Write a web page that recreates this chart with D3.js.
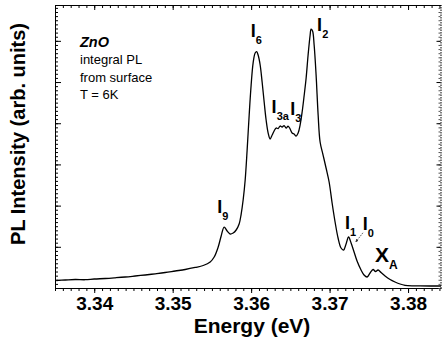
<!DOCTYPE html>
<html>
<head>
<meta charset="utf-8">
<script src="https://cdn.jsdelivr.net/npm/d3@7"></script>
<style>
  body { margin: 0; background: #fff; }
  svg { display: block; font-family: Arial, "Liberation Sans", Helvetica, sans-serif; }
  .axis path, .axis line { stroke: #000; stroke-width: 1; }
</style>
</head>
<body>
<div id="chart"></div>
<script>
// PL spectrum ZnO
var energy = [3.33516, 3.33631, 3.33758, 3.33885, 3.34, 3.3414, 3.34268, 3.34395, 3.34522, 3.3465,
  3.34777, 3.34904, 3.35032, 3.35159, 3.35287, 3.35389, 3.35478, 3.35529, 3.3558, 3.35618,
  3.35656, 3.35694, 3.35732, 3.35771, 3.35809, 3.35847, 3.35873, 3.35898, 3.35924, 3.35949,
  3.35975, 3.36, 3.36025, 3.36051, 3.3607, 3.36089, 3.36115, 3.3614, 3.36166, 3.36191,
  3.36217, 3.36242, 3.36268, 3.36293, 3.36318, 3.36344, 3.36369, 3.36395, 3.3642, 3.36446,
  3.36471, 3.36497, 3.36522, 3.36548, 3.36573, 3.36599, 3.36624, 3.3665, 3.36675, 3.36701,
  3.36726, 3.36752, 3.36764, 3.36783, 3.36803, 3.36828, 3.36854, 3.36879, 3.36917, 3.36955,
  3.36994, 3.37032, 3.3707, 3.37108, 3.37146, 3.37178, 3.3721, 3.37242, 3.37274, 3.37312,
  3.3735, 3.37401, 3.37439, 3.37478, 3.37516, 3.37554, 3.37586, 3.37618, 3.37656, 3.37707,
  3.37771, 3.37834, 3.37898, 3.37962, 3.3805, 3.38153, 3.3828, 3.3842];
var intensity = [0.182, 0.194, 0.206, 0.201, 0.218, 0.231, 0.248, 0.267, 0.291, 0.316,
  0.345, 0.376, 0.413, 0.449, 0.498, 0.546, 0.631, 0.752, 0.995, 1.262,
  1.48, 1.383, 1.311, 1.335, 1.408, 1.553, 1.796, 2.136, 2.621, 3.35,
  4.2, 4.927, 5.461, 5.704, 5.74, 5.655, 5.413, 5.0, 4.515, 4.078,
  3.762, 3.617, 3.714, 3.811, 3.883, 3.871, 3.932, 3.908, 3.944, 3.883,
  3.932, 3.859, 3.762, 3.738, 3.689, 3.762, 3.956, 4.272, 4.66, 5.097,
  5.655, 6.141, 6.286, 6.238, 5.898, 5.17, 4.199, 3.544, 3.228, 2.913,
  2.573, 2.063, 1.602, 1.214, 0.971, 0.922, 1.068, 1.238, 1.092, 0.874,
  0.655, 0.437, 0.316, 0.267, 0.364, 0.449, 0.4, 0.437, 0.376, 0.291,
  0.206, 0.146, 0.097, 0.066, 0.053, 0.053, 0.049, 0.049];

var xMajor = [3.34, 3.35, 3.36, 3.37, 3.38];
var xTickLabels = ["3.34", "3.35", "3.36", "3.37", "3.38"];

// peak labels: main letter, subscript, anchor (energy, intensity)
var peakMain = ["I", "I", "I", "I", "I", "I", "I", "X"];
var peakSub = ["9", "6", "3a", "3", "2", "1", "0", "A"];
var peakE = [3.35567, 3.35994, 3.36261, 3.36497, 3.36841, 3.37197, 3.37423, 3.3758];
var peakI = [1.82, 6.10, 4.25, 4.20, 6.24, 1.43, 1.41, 0.64];

var infoLines = ["integral PL", "from surface", "T = 6K"];

var W = 443, H = 349,
    margin = {left: 55, right: 2, top: 5, bottom: 61};

var svg = d3.select("#chart").append("svg")
    .attr("width", W)
    .attr("height", H);

var x = d3.scaleLinear().domain([3.335, 3.3842]).range([margin.left, W - margin.right]);
var y = d3.scaleLinear().domain([0, 6.87]).range([H - margin.bottom, margin.top]);

var x0 = x.range()[0], x1 = x.range()[1], y0 = y.range()[0], y1 = y.range()[1];

var xMinor = d3.range(3.335, 3.3845, 0.001).map(function (d) { return +d.toFixed(3) });
var yMajor = d3.range(1, 7);
var yMinor = d3.range(0, 6.9, 0.1).map(function (d) { return +d.toFixed(1) });

// bottom axis, ticks outward
svg.append("g").attr("class", "axis")
    .attr("transform", "translate(0," + y0 + ")")
    .call(d3.axisBottom(x).tickValues(xMinor).tickSize(3).tickSizeOuter(0).tickFormat(""));
var bx = svg.append("g").attr("class", "axis")
    .attr("transform", "translate(0," + y0 + ")")
    .call(d3.axisBottom(x).tickValues(xMajor).tickSize(5).tickSizeOuter(0)
        .tickPadding(4).tickFormat(function (d, i) { return xTickLabels[i] }));
bx.select(".domain").remove();
bx.selectAll("text")
    .attr("fill", "#000")
    .style("font-size", "19px")
    .style("font-weight", "bold");

// top axis, ticks inward
svg.append("g").attr("class", "axis")
    .attr("transform", "translate(0," + y1 + ")")
    .call(d3.axisBottom(x).tickValues(xMinor).tickSize(3).tickSizeOuter(0).tickFormat(""));
svg.append("g").attr("class", "axis")
    .attr("transform", "translate(0," + y1 + ")")
    .call(d3.axisBottom(x).tickValues(xMajor).tickSize(5).tickSizeOuter(0).tickFormat(""))
    .select(".domain").remove();

// left axis, ticks inward
svg.append("g").attr("class", "axis")
    .attr("transform", "translate(" + x0 + ",0)")
    .call(d3.axisRight(y).tickValues(yMinor).tickSize(3).tickSizeOuter(0).tickFormat(""));
svg.append("g").attr("class", "axis")
    .attr("transform", "translate(" + x0 + ",0)")
    .call(d3.axisRight(y).tickValues(yMajor).tickSize(6).tickSizeOuter(0).tickFormat(""))
    .select(".domain").remove();

// right axis (dotted in the scan)
var ra = svg.append("g").attr("class", "axis")
    .attr("transform", "translate(" + (x1 - 0.5) + ",0)")
    .call(d3.axisLeft(y).tickValues(yMinor).tickSize(2).tickSizeOuter(0).tickFormat(""));
ra.select(".domain").style("stroke-dasharray", "1.5,1");
ra.selectAll(".tick line").style("stroke", "#555");
svg.append("g").attr("class", "axis")
    .attr("transform", "translate(" + (x1 - 0.5) + ",0)")
    .call(d3.axisLeft(y).tickValues(yMajor).tickSize(4).tickSizeOuter(0).tickFormat(""))
    .select(".domain").remove();

// spectrum
var line = d3.line()
    .x(function (d) { return x(d[0]) })
    .y(function (d) { return y(d[1]) })
    .curve(d3.curveCatmullRom.alpha(0.5));

svg.append("path")
    .datum(d3.zip(energy, intensity))
    .attr("d", line)
    .attr("fill", "none")
    .attr("stroke", "#000")
    .attr("stroke-width", 1.3);

// peak labels
peakMain.forEach(function (m, i) {
    var big = m === "X";
    var t = svg.append("text")
        .attr("x", x(peakE[i]))
        .attr("y", y(peakI[i]))
        .style("font-weight", "bold")
        .style("font-size", big ? "21px" : "18px");
    t.append("tspan").text(m);
    t.append("tspan")
        .attr("dy", big ? 7 : 7)
        .style("font-size", big ? "12px" : "11px")
        .text(peakSub[i]);
});

// arrow from I0 to the curve
svg.append("defs").append("marker")
    .attr("id", "arr")
    .attr("viewBox", "0 0 6 6")
    .attr("refX", 5).attr("refY", 3)
    .attr("markerWidth", 4).attr("markerHeight", 4)
    .attr("orient", "auto")
    .append("path").attr("d", "M0,0L6,3L0,6z").attr("fill", "#333");
svg.append("line")
    .attr("x1", x(3.37425)).attr("y1", y(1.34))
    .attr("x2", x(3.37335)).attr("y2", y(1.12))
    .attr("stroke", "#333")
    .attr("stroke-width", 0.8)
    .attr("stroke-dasharray", "1.5,1")
    .attr("marker-end", "url(#arr)");

// legend text
svg.append("text")
    .attr("x", 80).attr("y", 47)
    .style("font-size", "14.5px")
    .style("font-weight", "bold")
    .style("font-style", "italic")
    .text("ZnO");
svg.selectAll(".info")
    .data(infoLines)
    .enter().append("text")
    .attr("class", "info")
    .attr("x", 80)
    .attr("y", function (d, i) { return 64 + i * 17.5 })
    .style("font-size", "13px")
    .text(function (d) { return d });

// axis titles
svg.append("text")
    .attr("x", (x0 + x1) / 2 + 4)
    .attr("y", 333)
    .attr("text-anchor", "middle")
    .style("font-size", "21px")
    .style("font-weight", "bold")
    .text("Energy (eV)");
svg.append("text")
    .attr("transform", "translate(25,134) rotate(-90)")
    .attr("text-anchor", "middle")
    .style("font-size", "20px")
    .style("font-weight", "bold")
    .text("PL Intensity (arb. units)");
</script>
</body>
</html>
